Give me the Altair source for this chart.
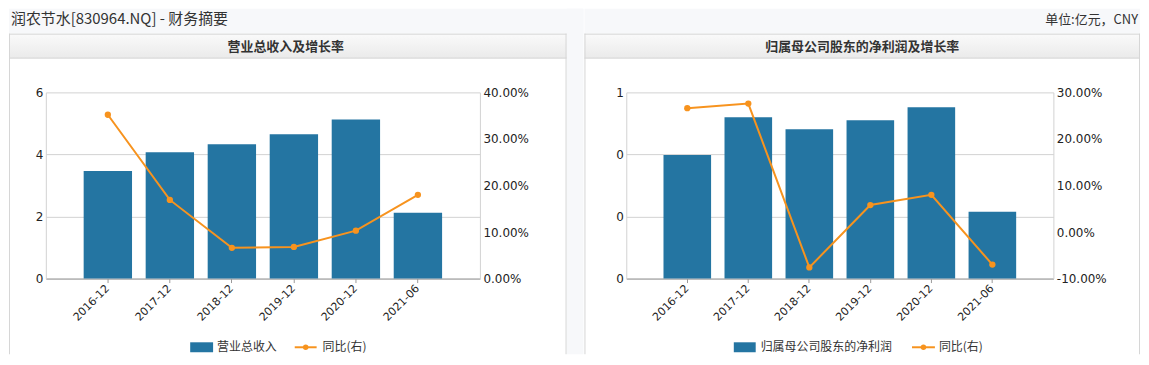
import altair as alt
import pandas as pd

# ---- data ----
periods = ["2016-12", "2017-12", "2018-12", "2019-12", "2020-12", "2021-06"]
revenue = [3.47, 4.07, 4.33, 4.65, 5.13, 2.12]            # 亿元
revenue_yoy = [0.352, 0.169, 0.066, 0.068, 0.103, 0.180]
profit = [0.398, 0.520, 0.481, 0.510, 0.552, 0.215]        # 亿元
profit_yoy = [0.266, 0.276, -0.076, 0.058, 0.080, -0.070]

left_y_ticks = [0, 2, 4, 6]
left_r_ticks = [0.0, 0.1, 0.2, 0.3, 0.4]
right_y_ticks = [0, 0.2, 0.4, 0.6]
right_r_ticks = [-0.1, 0.0, 0.1, 0.2, 0.3]

page_title = "润农节水[830964.NQ] - 财务摘要"
unit_text = "单位:亿元，CNY"
left_title = "营业总收入及增长率"
right_title = "归属母公司股东的净利润及增长率"
left_bar_name = "营业总收入"
right_bar_name = "归属母公司股东的净利润"
line_name = "同比(右)"

# ---- style ----
BAR = "#2475a2"
LINE = "#f7931e"
PAGE = "#f7f8fa"
BORDER = "#d6d6d6"
GRID = "#d2d2d2"
TXT = "#333333"
CJK = "Noto Sans CJK SC"
NUM = "DejaVu Sans"
H = 187
LEG_Y = 256

one = pd.DataFrame({"k": [0]})
HEADER_FILL = alt.Gradient(
    gradient="linear",
    stops=[alt.GradientStop(color="#fafafa", offset=0), alt.GradientStop(color="#eaeaea", offset=1)],
    x1=0, x2=0, y1=0, y2=1,
)


def rect(x, x2, y, y2, color):
    return alt.Chart(one).mark_rect(color=color, strokeWidth=0).encode(
        x=alt.value(x), x2=alt.value(x2), y=alt.value(y), y2=alt.value(y2))


def vrule(x, y, y2, color=BORDER, w=1):
    return alt.Chart(one).mark_rule(color=color, strokeWidth=w).encode(
        x=alt.value(x), y=alt.value(y), y2=alt.value(y2))


def hrule(x, x2, y, color=BORDER, w=1):
    return alt.Chart(one).mark_rule(color=color, strokeWidth=w).encode(
        x=alt.value(x), x2=alt.value(x2), y=alt.value(y))


def text(x, y, s, size=12, weight="normal", align="left", font=CJK, color=TXT):
    return alt.Chart(one).mark_text(font=font, fontSize=size, fontWeight=weight, align=align,
                                    baseline="middle", color=color).encode(
        x=alt.value(x), y=alt.value(y), text=alt.value(s))


def dot(x, y):
    return alt.Chart(one).mark_circle(color=LINE, size=30, opacity=1).encode(
        x=alt.value(x), y=alt.value(y))


def main_layers(values, yoy, ydom, yticks, yfmt, rdom, rticks):
    df = pd.DataFrame({"period": periods, "value": values, "yoy": yoy})
    xaxis = alt.Axis(labelAngle=315, labelAlign="right", labelBaseline="middle", labelFont=NUM,
                     labelFontSize=11, labelColor="#222", tickColor="#999", domainColor="#999",
                     tickSize=4, labelPadding=4, grid=False)
    xenc = alt.X("period:N", sort=periods, title=None,
                 scale=alt.Scale(paddingInner=0.22, paddingOuter=0.61), axis=xaxis)
    base = alt.Chart(df)
    bars = base.mark_bar(color=BAR).encode(
        x=xenc,
        y=alt.Y("value:Q", title=None,
                scale=alt.Scale(domain=ydom, nice=False, zero=False),
                axis=alt.Axis(values=yticks, format=yfmt, grid=True, gridColor=GRID,
                              domainColor=GRID, ticks=False, labelPadding=3, labelFont=NUM,
                              labelFontSize=12, labelColor="#222")))
    line = base.mark_line(color=LINE, strokeWidth=2,
                          point=alt.OverlayMarkDef(filled=True, color=LINE, size=40, opacity=1)).encode(
        x=xenc,
        y=alt.Y("yoy:Q", title=None,
                scale=alt.Scale(domain=rdom, nice=False, zero=False),
                axis=alt.Axis(orient="right", values=rticks,
                              labelExpr="replace(format(datum.value, '.2%'), '\u2212', '-')",
                              grid=False, ticks=False, domainColor=GRID, labelPadding=3,
                              labelFont=NUM, labelFontSize=12, labelColor="#222")))
    return [bars, line]


# ---- left panel (plot origin at page x=45, y=92) ----
LW = 436
left = alt.layer(
    rect(-37, 540, -84, -59, PAGE),
    rect(523, 540, -84, 263, PAGE),
    rect(-37, 523, -59, -34, HEADER_FILL),
    vrule(-36.5, -59, 263),
    vrule(522.5, -59, 263),
    hrule(-37, 523, -58.5),
    hrule(-37, 523, -34.5),
    text(-35, -73.5, page_title, size=15),
    text(241, -46, left_title, size=13, weight="bold", align="center"),
    *main_layers(revenue, revenue_yoy, [0, 6], left_y_ticks, "d", [0, 0.4], left_r_ticks),
    rect(145, 168, LEG_Y - 5, LEG_Y + 5, BAR),
    text(172, LEG_Y, left_bar_name),
    hrule(250, 272, LEG_Y, color=LINE, w=2),
    dot(261, LEG_Y),
    text(278, LEG_Y, line_name),
).resolve_scale(y="independent").properties(width=LW, height=H)

# ---- right panel (plot origin at page x=627, y=92) ----
RW = 429
right = alt.layer(
    rect(-42, 516, -84, -59, PAGE),
    rect(-42, 516, -59, -34, HEADER_FILL),
    vrule(-41.5, -59, 263),
    vrule(515.5, -59, 263),
    hrule(-42, 516, -58.5),
    hrule(-42, 516, -34.5),
    text(514, -73, unit_text, size=13, align="right"),
    text(237, -46, right_title, size=13, weight="bold", align="center"),
    *main_layers(profit, profit_yoy, [0, 0.6], right_y_ticks, ".0f", [-0.1, 0.3], right_r_ticks),
    rect(108, 130, LEG_Y - 5, LEG_Y + 5, BAR),
    text(135, LEG_Y, right_bar_name),
    hrule(287, 310, LEG_Y, color=LINE, w=2),
    dot(298.5, LEG_Y),
    text(314, LEG_Y, line_name),
).resolve_scale(y="independent").properties(width=RW, height=H)

chart = alt.hconcat(left, right, spacing=0).properties(padding=0).configure(
    background="white").configure_view(strokeWidth=0)

chart.save("out.html", embed_options={"renderer": "svg", "actions": False})
